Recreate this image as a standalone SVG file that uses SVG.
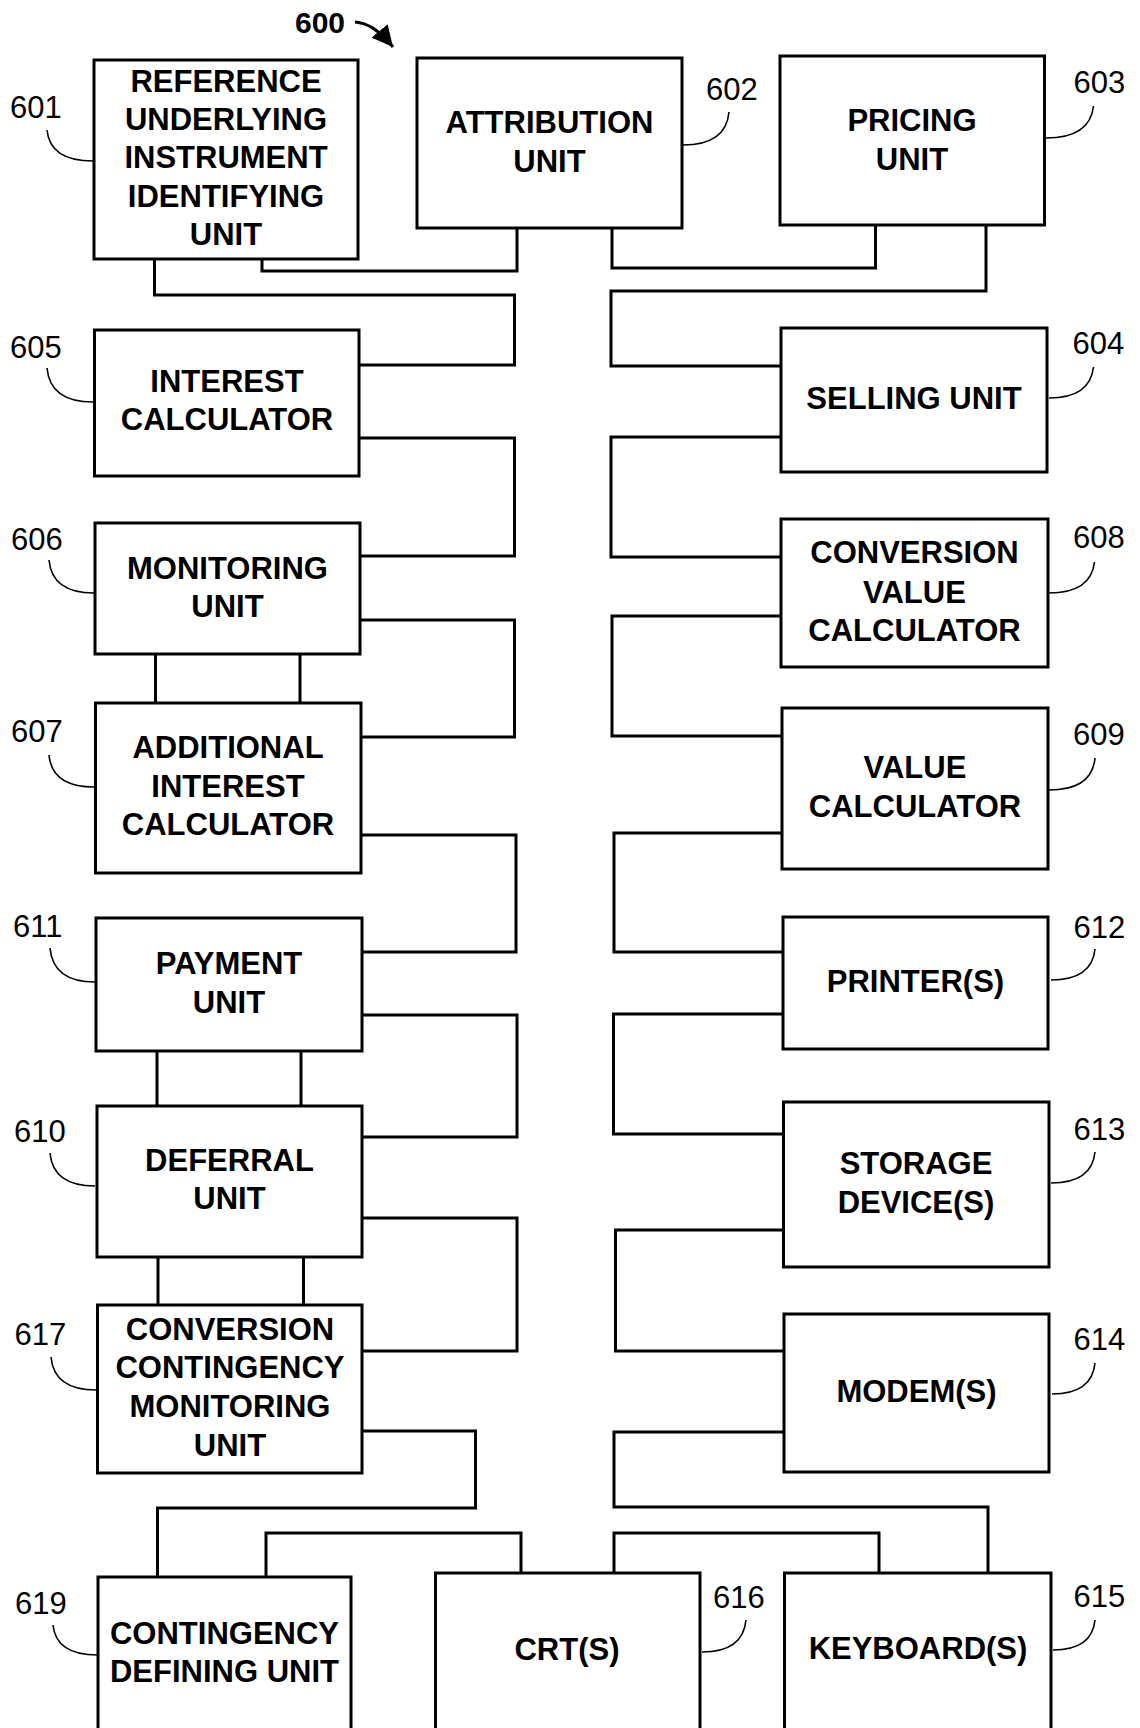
<svg xmlns="http://www.w3.org/2000/svg" width="1140" height="1728" viewBox="0 0 1140 1728">
<style>
.box{fill:#fff;stroke:#000;stroke-width:3}
.t{font-family:"Liberation Sans",Arial,sans-serif;font-weight:bold;font-size:31px;text-anchor:middle;fill:#000}
.n{font-family:"Liberation Sans",Arial,sans-serif;font-size:31px;fill:#000}
.lead{fill:none;stroke:#000;stroke-width:1.6}
.con{fill:none;stroke:#000;stroke-width:3;stroke-linejoin:miter;stroke-linecap:square}
</style>
<defs>
<marker id="ah" markerUnits="userSpaceOnUse" viewBox="0 0 10 10" refX="10" refY="5" markerWidth="21" markerHeight="21" orient="auto">
<path d="M0,0 L10,5 L0,10 z" fill="#000"/>
</marker>
</defs>
<rect width="1140" height="1728" fill="#fff"/>

<g id="connectors">
<path class="con" d="M154.5,259 V295 H514.5 V365 H359"/>
<path class="con" d="M262,259 V271 H517 V228"/>
<path class="con" d="M612,228 V268 H875.5 V225"/>
<path class="con" d="M986,225 V291 H611 V366 H781"/>
<path class="con" d="M359,438 H514.5 V556 H360"/>
<path class="con" d="M781,437 H611 V557 H781"/>
<path class="con" d="M360,620 H514.5 V737 H361"/>
<path class="con" d="M155.5,654 V703 M300,654 V703"/>
<path class="con" d="M781,616 H612 V736 H782"/>
<path class="con" d="M361,835 H516 V952 H362"/>
<path class="con" d="M782,833 H614 V952 H783"/>
<path class="con" d="M362,1015 H517 V1137 H362"/>
<path class="con" d="M157,1051 V1106 M301,1051 V1106"/>
<path class="con" d="M783,1014 H613.5 V1134 H783.5"/>
<path class="con" d="M362,1218 H517 V1351 H362"/>
<path class="con" d="M158,1257 V1305 M303.5,1257 V1305"/>
<path class="con" d="M783.5,1230 H615.5 V1351 H784"/>
<path class="con" d="M362,1431 H475.5 V1508 H157.5 V1577"/>
<path class="con" d="M266,1577 V1533 H521 V1573"/>
<path class="con" d="M614,1573 V1533 H879 V1573"/>
<path class="con" d="M784,1432 H614 V1507 H988 V1573"/>
</g>

<g id="fig600">
<text x="295" y="33" class="n" style="font-weight:bold;font-size:30px">600</text>
<path d="M355,22 C367,23 378,29 393,47" fill="none" stroke="#000" stroke-width="3" marker-end="url(#ah)"/>
</g>

<g id="n601">
<rect class="box" x="94" y="60" width="264" height="199"/>
<text class="t" x="226" y="92">REFERENCE</text>
<text class="t" x="226" y="130">UNDERLYING</text>
<text class="t" x="226" y="168">INSTRUMENT</text>
<text class="t" x="226" y="207">IDENTIFYING</text>
<text class="t" x="226" y="245">UNIT</text>
<text class="n" x="10" y="118">601</text>
<path class="lead" d="M47,130 Q50,161 93,161"/>
</g>

<g id="n602">
<rect class="box" x="417" y="58" width="265" height="170"/>
<text class="t" x="549.5" y="133">ATTRIBUTION</text>
<text class="t" x="549.5" y="172">UNIT</text>
<text class="n" x="706" y="100">602</text>
<path class="lead" d="M729,112 Q726,145 683,145"/>
</g>

<g id="n603">
<rect class="box" x="780" y="56" width="264.5" height="169"/>
<text class="t" x="912" y="131">PRICING</text>
<text class="t" x="912" y="170">UNIT</text>
<text class="n" x="1073.5" y="93">603</text>
<path class="lead" d="M1093.5,106 Q1090,138 1046,138"/>
</g>

<g id="n604">
<rect class="box" x="781" y="328" width="266" height="144"/>
<text class="t" x="914" y="409">SELLING UNIT</text>
<text class="n" x="1072.5" y="354">604</text>
<path class="lead" d="M1093.5,367 Q1090,398 1049,398"/>
</g>

<g id="n605">
<rect class="box" x="94.5" y="330" width="264.5" height="146"/>
<text class="t" x="227" y="392">INTEREST</text>
<text class="t" x="227" y="430">CALCULATOR</text>
<text class="n" x="10" y="358">605</text>
<path class="lead" d="M47,368 Q50,402 93,402"/>
</g>

<g id="n606">
<rect class="box" x="95" y="523" width="265" height="131"/>
<text class="t" x="227.5" y="579">MONITORING</text>
<text class="t" x="227.5" y="617">UNIT</text>
<text class="n" x="11" y="550">606</text>
<path class="lead" d="M49,560 Q52,593 94,593"/>
</g>

<g id="n607">
<rect class="box" x="95.5" y="703" width="265.5" height="170"/>
<text class="t" x="228" y="758">ADDITIONAL</text>
<text class="t" x="228" y="797">INTEREST</text>
<text class="t" x="228" y="835">CALCULATOR</text>
<text class="n" x="11" y="742">607</text>
<path class="lead" d="M49,755 Q52,787 94,787"/>
</g>

<g id="n608">
<rect class="box" x="781" y="519" width="267" height="148"/>
<text class="t" x="914.5" y="563">CONVERSION</text>
<text class="t" x="914.5" y="603">VALUE</text>
<text class="t" x="914.5" y="641">CALCULATOR</text>
<text class="n" x="1073" y="548">608</text>
<path class="lead" d="M1094.5,562 Q1091,593 1049,593"/>
</g>

<g id="n609">
<rect class="box" x="782" y="708" width="266" height="161"/>
<text class="t" x="915" y="778">VALUE</text>
<text class="t" x="915" y="817">CALCULATOR</text>
<text class="n" x="1073" y="745">609</text>
<path class="lead" d="M1095,758 Q1092,790 1049,790"/>
</g>

<g id="n611">
<rect class="box" x="96" y="918" width="266" height="133"/>
<text class="t" x="229" y="974">PAYMENT</text>
<text class="t" x="229" y="1013">UNIT</text>
<text class="n" x="13" y="937">611</text>
<path class="lead" d="M50,948 Q53,982 95,982"/>
</g>

<g id="n610">
<rect class="box" x="97" y="1106" width="265" height="151"/>
<text class="t" x="229.5" y="1171">DEFERRAL</text>
<text class="t" x="229.5" y="1209">UNIT</text>
<text class="n" x="14" y="1142">610</text>
<path class="lead" d="M50,1153 Q53,1186 95,1186"/>
</g>

<g id="n612">
<rect class="box" x="783" y="917" width="265" height="132"/>
<text class="t" x="915.5" y="992">PRINTER(S)</text>
<text class="n" x="1073.5" y="938">612</text>
<path class="lead" d="M1095,949 Q1092,980 1051,980"/>
</g>

<g id="n613">
<rect class="box" x="783.5" y="1102" width="265.5" height="165"/>
<text class="t" x="916" y="1174">STORAGE</text>
<text class="t" x="916" y="1213">DEVICE(S)</text>
<text class="n" x="1073.5" y="1140">613</text>
<path class="lead" d="M1095,1152 Q1092,1183 1051,1183"/>
</g>

<g id="n617">
<rect class="box" x="97.5" y="1305" width="264.5" height="168"/>
<text class="t" x="230" y="1340">CONVERSION</text>
<text class="t" x="230" y="1378">CONTINGENCY</text>
<text class="t" x="230" y="1417">MONITORING</text>
<text class="t" x="230" y="1456">UNIT</text>
<text class="n" x="14.5" y="1345">617</text>
<path class="lead" d="M51,1357 Q54,1390 96,1390"/>
</g>

<g id="n614">
<rect class="box" x="784" y="1314" width="265" height="158"/>
<text class="t" x="916.5" y="1402">MODEM(S)</text>
<text class="n" x="1073.5" y="1350">614</text>
<path class="lead" d="M1095,1363 Q1092,1394 1052,1394"/>
</g>

<g id="n619">
<rect class="box" x="98" y="1577" width="253" height="170"/>
<text class="t" x="224.5" y="1644">CONTINGENCY</text>
<text class="t" x="224.5" y="1682">DEFINING UNIT</text>
<text class="n" x="15" y="1614">619</text>
<path class="lead" d="M53,1625 Q56,1655 97.5,1655"/>
</g>

<g id="n616">
<rect class="box" x="435.5" y="1573" width="264.5" height="174"/>
<text class="t" x="567" y="1660">CRT(S)</text>
<text class="n" x="713" y="1608">616</text>
<path class="lead" d="M746,1620 Q743,1652 702,1652"/>
</g>

<g id="n615">
<rect class="box" x="784.5" y="1573" width="266.5" height="174"/>
<text class="t" x="918" y="1659">KEYBOARD(S)</text>
<text class="n" x="1073.5" y="1607">615</text>
<path class="lead" d="M1095,1620 Q1092,1650 1053,1650"/>
</g>
</svg>
